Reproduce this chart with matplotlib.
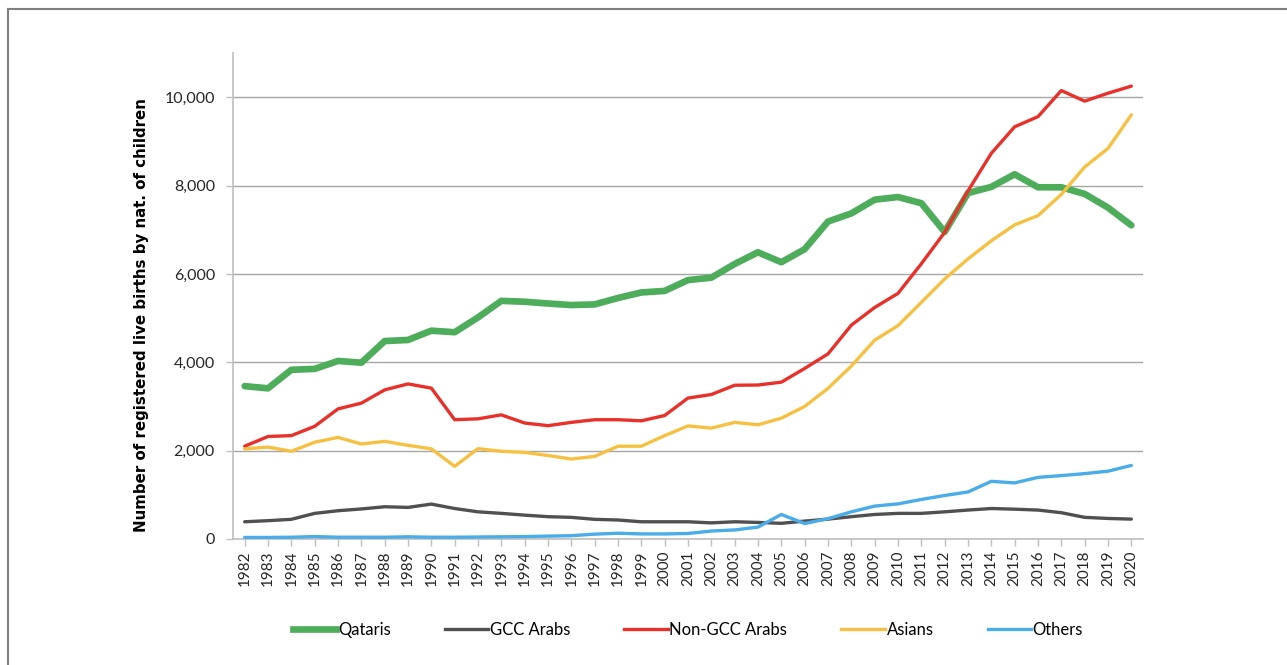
import matplotlib
matplotlib.use("Agg")
import matplotlib.pyplot as plt
from matplotlib.lines import Line2D

years = list(range(1982, 2021))

qataris = [3460, 3410, 3830, 3850, 4030, 3990, 4480, 4505, 4715, 4680,
           5015, 5390, 5370, 5330, 5295, 5310, 5455, 5580, 5615, 5860,
           5915, 6225, 6490, 6265, 6560, 7185, 7370, 7680, 7740, 7600,
           6950, 7830, 7970, 8255, 7960, 7960, 7810, 7500, 7100]

gcc_arabs = [390, 415, 445, 580, 640, 680, 730, 715, 790, 690,
             615, 580, 540, 505, 490, 445, 430, 390, 390, 390,
             365, 390, 375, 355, 405, 450, 505, 555, 580, 580,
             615, 655, 690, 675, 655, 595, 490, 465, 450]

non_gcc_arabs = [2100, 2320, 2340, 2550, 2945, 3075, 3375, 3510, 3415, 2700,
                 2720, 2810, 2625, 2565, 2640, 2700, 2700, 2675, 2795, 3190,
                 3270, 3480, 3485, 3550, 3860, 4190, 4840, 5240, 5560, 6230,
                 6940, 7880, 8730, 9330, 9560, 10150, 9910, 10090, 10250]

asians = [2040, 2080, 1985, 2190, 2300, 2150, 2210, 2120, 2040, 1645,
          2045, 1985, 1960, 1890, 1810, 1870, 2100, 2100, 2340, 2560,
          2510, 2640, 2585, 2735, 3000, 3410, 3915, 4500, 4830, 5355,
          5885, 6340, 6750, 7110, 7320, 7800, 8420, 8840, 9600]

others = [35, 35, 40, 55, 40, 40, 40, 50, 40, 40,
          45, 50, 55, 65, 75, 110, 130, 115, 115, 125,
          180, 205, 270, 555, 350, 460, 615, 745, 795, 895,
          985, 1065, 1305, 1270, 1395, 1435, 1480, 1535, 1665]

series_names = ["Qataris", "GCC Arabs", "Non-GCC Arabs", "Asians", "Others"]
series_values = [qataris, gcc_arabs, non_gcc_arabs, asians, others]
colors = ["#4EAD5B", "#505050", "#E8312A", "#F6C142", "#4AACE8"]
widths = [4.8, 2.4, 2.4, 2.4, 2.4]

y_ticks = [0, 2000, 4000, 6000, 8000, 10000]
y_ticklabels = ["0", "2,000", "4,000", "6,000", "8,000", "10,000"]

fig = plt.figure(figsize=(12.87, 6.65), dpi=100)
ax = fig.add_axes([233/1287, 1-539/665, (1143-233)/1287, (539-53)/665])

for name, vals, c, w in zip(series_names, series_values, colors, widths):
    ax.plot(years, vals, color=c, lw=w, label=name, solid_joinstyle="round",
            solid_capstyle="round", zorder=3)

ax.set_xlim(years[0]-0.5, years[-1]+0.5)
ax.set_ylim(0, 11000)
ax.set_yticks(y_ticks)
ax.set_yticklabels(y_ticklabels, fontfamily="Lato", fontsize=11.5, color="#262626")
ax.set_xticks(years)
ax.set_xticklabels([str(y) for y in years], rotation=90, fontfamily="Lato",
                   fontsize=11, color="#262626")
ax.yaxis.grid(True, color="#A6A6A6", lw=1.0, zorder=0)
ax.set_axisbelow(True)
for s in ["top", "right"]:
    ax.spines[s].set_visible(False)
ax.spines["left"].set_color("#BFBFBF")
ax.spines["left"].set_linewidth(1.2)
ax.spines["bottom"].set_color("#BFBFBF")
ax.spines["bottom"].set_linewidth(1.2)
ax.tick_params(axis="both", length=5, color="#BFBFBF", width=1)
ax.tick_params(axis="y", pad=8)
ax.tick_params(axis="x", pad=3)

ax.set_ylabel("Number of registered live births by nat. of children",
              fontfamily="DejaVu Sans", fontweight="bold", fontsize=10.8,
              color="#000000")
ax.yaxis.set_label_coords(-84/910, (539-315)/486)

handles = [Line2D([0], [0], color=c, lw=w) for c, w in zip(colors, widths)]
leg = fig.legend(handles, series_names, loc="center", ncol=5,
                 bbox_to_anchor=(688/1287, 1-630/665), frameon=False,
                 prop={"family": "Lato", "size": 12}, handlelength=2.6,
                 handletextpad=0.1, columnspacing=3.25)

# outer border (top and left visible)
fig.add_artist(Line2D([8/1287, 1.0], [1-8.5/665, 1-8.5/665], color="#7F7F7F", lw=1.5,
                      transform=fig.transFigure))
fig.add_artist(Line2D([8/1287, 8/1287], [0.0, 1-8.5/665], color="#7F7F7F", lw=1.5,
                      transform=fig.transFigure))

fig.savefig("out.png", dpi=100)
